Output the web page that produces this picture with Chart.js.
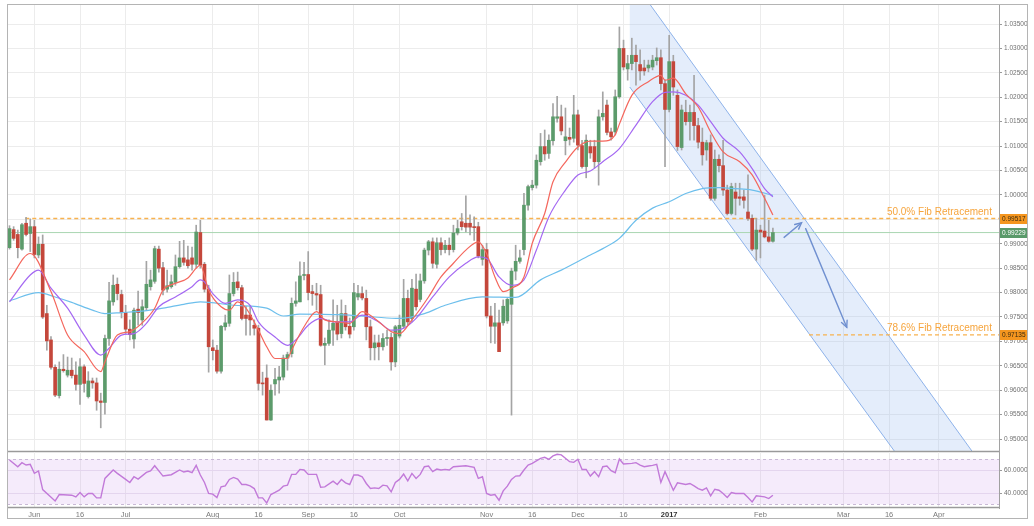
<!DOCTYPE html>
<html>
<head>
<meta charset="utf-8">
<title>Chart</title>
<script src="https://cdn.jsdelivr.net/npm/chart.js@4.4.1/dist/chart.umd.min.js"></script>
<style>
html,body{margin:0;padding:0;background:#ffffff;}
#wrap{position:relative;width:1034px;height:526px;overflow:hidden;background:#fff;}
#mainC{position:absolute;left:0;top:0;}
#rsiC{position:absolute;left:0;top:452px;}
#frame{position:absolute;left:7px;top:4px;width:1021px;height:515px;border:1px solid #b4b4b4;box-sizing:border-box;pointer-events:none;}
</style>
</head>
<body>
<div id="wrap">
<canvas id="mainC" width="1034" height="453"></canvas>
<canvas id="rsiC" width="1034" height="74"></canvas>
<div id="frame"></div>
</div>
<script>
const FONT = "'Liberation Sans', Arial, sans-serif";

// ---- candles (daily bars, bar index 0 = 1 Jun 2016) ----
const firstBar = -6;
const openV = [
0.9892,0.9929,0.9919,0.9889,0.9942,0.9921,0.9935,0.9877,0.9899,0.9757,
0.9703,0.9647,0.9589,0.9643,0.9631,0.9641,0.9631,0.9612,0.9648,0.9587,
0.9619,0.9615,0.9578,0.9575,0.9706,0.9781,0.9817,0.9796,0.9759,0.9725,
0.9705,0.9766,0.9744,0.9769,0.9812,0.9823,0.9889,0.9851,0.9807,0.9812,
0.9821,0.9853,0.9871,0.9867,0.9871,0.9858,0.9923,0.9858,0.9807,0.9687,
0.9682,0.9639,0.9730,0.9737,0.9798,0.9822,0.9810,0.9754,0.9754,0.9733,
0.9727,0.9615,0.9625,0.9539,0.9613,0.9621,0.9627,0.9666,0.9675,0.9778,
0.9781,0.9835,0.9837,0.9802,0.9798,0.9796,0.9692,0.9696,0.9723,0.9740,
0.9716,0.9757,0.9731,0.9730,0.9791,0.9798,0.9788,0.9730,0.9687,0.9697,
0.9689,0.9706,0.9708,0.9658,0.9711,0.9731,0.9788,0.9747,0.9807,0.9786,
0.9824,0.9887,0.9904,0.9858,0.9902,0.9888,0.9897,0.9888,0.9922,0.9945,
0.9942,0.9942,0.9935,0.9935,0.9868,0.9888,0.9752,0.9731,0.9738,0.9738,
0.9742,0.9776,0.9844,0.9864,0.9888,0.9979,1.0015,1.0020,1.0068,1.0099,
1.0085,1.0111,1.0157,1.0160,1.0111,1.0118,1.0116,1.0164,1.0101,1.0058,
1.0099,1.0099,1.0068,1.0160,1.0184,1.0129,1.0129,1.0201,1.0300,1.0258,
1.0269,1.0286,1.0267,1.0260,1.0260,1.0262,1.0275,1.0281,1.0228,1.0175,
1.0273,1.0204,1.0097,1.0169,1.0150,1.0169,1.0142,1.0108,1.0092,1.0107,
0.9993,1.0073,1.0060,1.0010,0.9962,1.0006,0.9996,0.9996,0.9965,0.9952,
0.9889,0.9928,0.9926,0.9914,0.9905];
const highV = [
0.9937,0.9935,0.9928,0.9942,0.9954,0.9951,0.9948,0.9914,0.9918,0.9774,
0.9710,0.9652,0.9658,0.9673,0.9668,0.9666,0.9658,0.9665,0.9652,0.9638,
0.9625,0.9625,0.9594,0.9713,0.9821,0.9836,0.9830,0.9805,0.9774,0.9744,
0.9768,0.9803,0.9785,0.9864,0.9846,0.9895,0.9895,0.9862,0.9846,0.9836,
0.9877,0.9905,0.9907,0.9895,0.9893,0.9938,0.9948,0.9862,0.9815,0.9703,
0.9692,0.9733,0.9754,0.9836,0.9841,0.9842,0.9815,0.9772,0.9774,0.9744,
0.9733,0.9637,0.9652,0.9611,0.9645,0.9649,0.9672,0.9678,0.9789,0.9822,
0.9863,0.9862,0.9884,0.9815,0.9819,0.9815,0.9707,0.9744,0.9785,0.9774,
0.9785,0.9774,0.9748,0.9819,0.9815,0.9812,0.9805,0.9744,0.9713,0.9713,
0.9716,0.9723,0.9717,0.9733,0.9754,0.9827,0.9805,0.9827,0.9838,0.9838,
0.9891,0.9907,0.9912,0.9912,0.9912,0.9907,0.9912,0.9938,0.9948,0.9962,
0.9998,0.9959,0.9955,0.9944,0.9897,0.9901,0.9772,0.9778,0.9764,0.9785,
0.9788,0.9850,0.9897,0.9887,1.0003,1.0020,1.0030,1.0082,1.0126,1.0133,
1.0123,1.0187,1.0202,1.0184,1.0178,1.0137,1.0204,1.0174,1.0112,1.0123,
1.0112,1.0112,1.0174,1.0211,1.0194,1.0137,1.0215,1.0344,1.0317,1.0286,
1.0321,1.0307,1.0297,1.0276,1.0276,1.0286,1.0301,1.0297,1.0235,1.0327,
1.0286,1.0215,1.0184,1.0194,1.0184,1.0245,1.0157,1.0137,1.0112,1.0123,
1.0092,1.0082,1.0112,1.0020,1.0024,1.0024,1.0024,1.0010,1.0041,0.9959,
0.9952,0.9938,0.9999,0.9948,0.9932];
const lowV = [
0.9889,0.9907,0.9871,0.9887,0.9916,0.9884,0.9871,0.9871,0.9747,0.9682,
0.9643,0.9587,0.9584,0.9637,0.9627,0.9625,0.9600,0.9571,0.9596,0.9584,
0.9604,0.9559,0.9523,0.9551,0.9692,0.9774,0.9785,0.9748,0.9716,0.9703,
0.9686,0.9733,0.9733,0.9764,0.9805,0.9819,0.9842,0.9795,0.9801,0.9809,
0.9815,0.9850,0.9856,0.9850,0.9846,0.9850,0.9850,0.9801,0.9637,0.9662,
0.9635,0.9635,0.9723,0.9731,0.9793,0.9805,0.9744,0.9713,0.9713,0.9713,
0.9600,0.9590,0.9539,0.9538,0.9590,0.9594,0.9621,0.9641,0.9668,0.9772,
0.9781,0.9826,0.9785,0.9774,0.9764,0.9690,0.9652,0.9692,0.9692,0.9703,
0.9707,0.9723,0.9707,0.9723,0.9785,0.9785,0.9703,0.9662,0.9662,0.9662,
0.9682,0.9692,0.9641,0.9648,0.9707,0.9727,0.9733,0.9740,0.9764,0.9781,
0.9819,0.9877,0.9850,0.9850,0.9877,0.9881,0.9877,0.9883,0.9918,0.9928,
0.9924,0.9918,0.9907,0.9871,0.9856,0.9748,0.9697,0.9696,0.9679,0.9733,
0.9737,0.9549,0.9826,0.9860,0.9877,0.9969,1.0010,1.0014,1.0061,1.0071,
1.0075,1.0102,1.0149,1.0123,1.0082,1.0102,1.0108,1.0092,1.0055,1.0035,
1.0075,1.0055,1.0020,1.0153,1.0123,1.0112,1.0123,1.0198,1.0256,1.0235,
1.0256,1.0225,1.0235,1.0245,1.0252,1.0256,1.0266,1.0215,1.0058,1.0170,
1.0204,1.0091,1.0092,1.0143,1.0112,1.0112,1.0096,1.0061,1.0071,0.9989,
0.9989,1.0047,0.9999,0.9959,0.9959,0.9959,0.9979,0.9973,0.9948,0.9886,
0.9866,0.9871,0.9912,0.9903,0.9903];
const closeV = [
0.9931,0.9911,0.9892,0.9939,0.9919,0.9935,0.9878,0.9899,0.9750,0.9701,
0.9647,0.9590,0.9643,0.9640,0.9641,0.9630,0.9612,0.9648,0.9614,0.9619,
0.9615,0.9578,0.9575,0.9706,0.9783,0.9815,0.9798,0.9759,0.9725,0.9714,
0.9764,0.9759,0.9771,0.9817,0.9826,0.9890,0.9850,0.9805,0.9814,0.9822,
0.9853,0.9871,0.9862,0.9855,0.9858,0.9924,0.9856,0.9807,0.9689,0.9681,
0.9639,0.9731,0.9738,0.9798,0.9821,0.9810,0.9747,0.9747,0.9744,0.9727,
0.9614,0.9613,0.9539,0.9600,0.9622,0.9627,0.9666,0.9673,0.9778,0.9783,
0.9834,0.9837,0.9800,0.9798,0.9795,0.9692,0.9696,0.9723,0.9737,0.9715,
0.9757,0.9730,0.9715,0.9800,0.9798,0.9789,0.9730,0.9687,0.9697,0.9689,
0.9706,0.9708,0.9658,0.9730,0.9733,0.9788,0.9740,0.9809,0.9771,0.9824,
0.9887,0.9904,0.9860,0.9902,0.9888,0.9897,0.9888,0.9922,0.9931,0.9935,
0.9934,0.9934,0.9933,0.9875,0.9888,0.9752,0.9731,0.9738,0.9679,0.9772,
0.9786,0.9844,0.9864,0.9871,0.9979,1.0017,1.0020,1.0071,1.0099,1.0084,
1.0112,1.0160,1.0160,1.0131,1.0119,1.0114,1.0164,1.0102,1.0058,1.0112,
1.0086,1.0068,1.0160,1.0167,1.0128,1.0119,1.0201,1.0300,1.0262,1.0269,
1.0286,1.0273,1.0254,1.0254,1.0266,1.0276,1.0281,1.0228,1.0175,1.0273,
1.0221,1.0099,1.0174,1.0150,1.0169,1.0142,1.0108,1.0082,1.0107,0.9993,
1.0073,1.0060,1.0010,0.9962,1.0017,0.9993,0.9993,0.9989,0.9952,0.9889,
0.9928,0.9924,0.9914,0.9905,0.9923];

// ---- moving averages ----
const maFastX = [-6,-1,4,8,12,16,17,20,23,26,29,31,34,37,39,40,42,45,47,49,51,54,56,58,61,62,65,68,70,73,76,79,82,86,88,91,95,98,101,104,107,109,111,113,115,118,120,123,125,128,131,134,137,140,141,144,148,151,152,154,157,160,163,166,170,173,176,178];
const maFastV = [0.9826,0.9880,0.9802,0.9713,0.9679,0.9638,0.9658,0.9713,0.9720,0.9738,0.9768,0.9805,0.9819,0.9830,0.9850,0.9856,0.9805,0.9771,0.9764,0.9781,0.9768,0.9723,0.9689,0.9665,0.9665,0.9682,0.9730,0.9761,0.9744,0.9740,0.9737,0.9761,0.9747,0.9720,0.9716,0.9744,0.9791,0.9832,0.9860,0.9887,0.9904,0.9880,0.9832,0.9802,0.9809,0.9832,0.9901,0.9962,1.0027,1.0067,1.0098,1.0110,1.0110,1.0123,1.0145,1.0204,1.0232,1.0245,1.0235,1.0239,1.0207,1.0180,1.0129,1.0088,1.0068,1.0041,0.9993,0.9959];
const maMidX = [-6,-1,1,4,8,12,16,18,21,24,27,30,34,38,40,41,43,46,49,52,54,58,61,63,66,69,72,76,79,83,86,89,92,96,100,104,107,109,112,115,118,121,124,128,131,134,137,141,145,149,152,154,157,160,163,166,170,173,176,178];
const maMidV = [0.9781,0.9836,0.9846,0.9809,0.9768,0.9713,0.9672,0.9686,0.9713,0.9716,0.9737,0.9771,0.9791,0.9812,0.9826,0.9822,0.9798,0.9778,0.9785,0.9774,0.9740,0.9709,0.9692,0.9703,0.9733,0.9747,0.9740,0.9740,0.9754,0.9740,0.9723,0.9727,0.9747,0.9791,0.9832,0.9860,0.9873,0.9870,0.9832,0.9815,0.9826,0.9887,0.9955,1.0010,1.0041,1.0049,1.0068,1.0095,1.0143,1.0191,1.0210,1.0211,1.0204,1.0184,1.0150,1.0116,1.0088,1.0054,1.0013,0.9996];
const maSlowX = [-6,1,5,9,14,17,21,26,31,36,40,48,56,60,64,72,76,82,88,94,99,108,116,122,127,134,137,141,145,149,153,157,161,165,169,173,178];
const maSlowV = [0.9783,0.9800,0.9791,0.9780,0.9764,0.9757,0.9759,0.9762,0.9768,0.9776,0.9781,0.9774,0.9768,0.9752,0.9756,0.9755,0.9754,0.9750,0.9747,0.9757,0.9774,0.9791,0.9790,0.9826,0.9846,0.9877,0.9890,0.9911,0.9948,0.9973,0.9986,1.0003,1.0013,1.0015,1.0013,1.0010,0.9999];

// ---- RSI ----
const rsiX = [-6,-4,-3,-2,-1,0,1,2,5,6,
9,10,11,12,13,14,15,16,17,19,
20,22,23,24,25,27,28,29,31,33,
35,36,37,38,39,40,41,42,43,44,
45,46,47,48,49,50,51,52,53,54,
55,56,57,58,59,60,61,62,63,64,
65,66,68,69,70,72,73,74,75,76,
77,78,79,80,81,82,83,84,85,86,
87,88,89,90,91,92,93,94,95,96,
97,98,99,100,101,104,106,107,108,109,
110,111,112,113,114,115,116,117,118,119,
120,122,123,124,125,126,127,128,129,130,
131,132,133,134,135,136,137,138,139,140,
141,142,144,145,146,147,148,149,150,151,
152,154,155,157,158,159,160,161,162,163,
164,165,166,167,168,169,171,172,173,174,
176,177,178];
const rsiV = [69.4,63.4,67.0,64.9,65.5,57.5,59.6,43.1,33.0,38.7,
38.1,36.6,40.5,36.6,39.6,39.6,35.7,35.7,53.0,60.5,
57.5,52.1,49.4,54.5,52.4,58.4,59.6,64.3,55.1,56.3,
60.5,58.7,59.6,58.1,64.6,56.0,49.4,39.6,39.0,36.0,
45.5,46.4,52.1,53.9,52.4,47.6,47.6,46.4,44.0,35.7,
35.7,31.2,38.7,40.5,42.5,46.1,47.0,56.6,56.6,61.0,
60.5,56.6,56.6,45.2,45.5,50.6,47.6,52.1,49.1,47.6,
56.0,56.0,54.5,48.5,44.0,44.6,44.0,47.0,46.4,41.0,
49.4,52.1,56.9,50.9,57.5,53.0,56.6,63.4,64.0,59.0,
61.3,60.5,61.0,60.5,63.4,64.3,62.8,53.0,54.5,39.6,
38.1,38.7,33.6,41.9,46.1,52.1,55.1,55.4,60.5,64.9,
66.4,70.9,71.8,70.0,73.0,74.5,73.9,70.9,67.9,67.3,
70.0,61.0,61.0,55.1,59.0,54.5,63.4,64.0,59.9,58.1,
70.3,65.8,66.4,67.0,64.9,63.4,64.0,64.6,65.5,49.4,
59.0,42.5,49.1,47.6,48.5,46.4,44.0,42.5,44.6,37.5,
43.4,42.5,39.6,36.0,40.5,39.6,39.6,36.0,32.1,37.5,
36.6,35.1,38.1];

// ---- axes ----
const tickBars = [0,11,22,43,54,66,77,88,109,120,131,142,153,175,195,206,218];
const tickLabels = ['Jun','16','Jul','Aug','16','Sep','16','Oct','Nov','16','Dec','16','2017','Feb','Mar','16','Apr'];
const priceTicks = [0.950,0.955,0.960,0.965,0.970,0.975,0.980,0.985,0.990,0.995,1.000,1.005,1.010,1.015,1.020,1.025,1.030,1.035];
const rsiTicks = [40,60];
const xMin = -6.6, xMax = 232.5;
const yMin = 0.94735, yMax = 1.0391;
const rsiMin = 26.7, rsiMax = 76.5;
const rsiUpper = 70, rsiLower = 30;

// ---- annotations ----
const fib50 = 0.99517, fib786 = 0.97135, lastPrice = 0.99229;
const fib50Start = -2.2, fib786Start = 186.7, fibTextX = 230.8;
const fibTexts = ['50.0% Fib Retracement','78.6% Fib Retracement'];
const channelUpper = [[148.3,1.0391],[226.1,0.9474]];
const channelLower = [[143.5,1.0221],[207.4,0.9474]];
const arrowsData = [[[180.7,0.9913],[184.9,0.9943]],[[185.9,0.9931],[195.8,0.9729]]];

const GREEN = '#5c9b6b', RED = '#c4473b';
const pts = (xs, vs) => xs.map((x, k) => ({x: x, y: vs[k]}));
const barX = openV.map((_, k) => firstBar + k);

function drawArrow(ctx, x1, y1, x2, y2) {
  ctx.beginPath(); ctx.moveTo(x1, y1); ctx.lineTo(x2, y2); ctx.stroke();
  const a = Math.atan2(y2 - y1, x2 - x1), L = 7, w = 0.45;
  ctx.beginPath();
  ctx.moveTo(x2 - L * Math.cos(a - w), y2 - L * Math.sin(a - w));
  ctx.lineTo(x2, y2);
  ctx.lineTo(x2 - L * Math.cos(a + w), y2 - L * Math.sin(a + w));
  ctx.stroke();
}
function drawTag(ctx, yPix, xL, bg, fg, text) {
  ctx.fillStyle = bg; ctx.fillRect(xL, Math.round(yPix) - 5, 27, 10);
  ctx.fillStyle = fg; ctx.font = '6.5px ' + FONT;
  ctx.textAlign = 'left'; ctx.textBaseline = 'middle';
  ctx.fillText(text, xL + 2, Math.round(yPix) + 0.5);
}
const noPadY = s => { s.width = 35; s.paddingTop = 0; s.paddingBottom = 0; };

const mainPlugin = {
  id: 'mainDeco',
  beforeDatasetsDraw(chart) {
    const {ctx, chartArea: a, scales: {x, y}} = chart;
    const P = p => [x.getPixelForValue(p[0]), y.getPixelForValue(p[1])];
    const u0 = P(channelUpper[0]), u1 = P(channelUpper[1]), l0 = P(channelLower[0]), l1 = P(channelLower[1]);
    ctx.save();
    ctx.beginPath(); ctx.rect(a.left, a.top, a.right - a.left, a.bottom - a.top); ctx.clip();
    ctx.beginPath();
    ctx.moveTo(l0[0], a.top); ctx.lineTo(u0[0], u0[1]); ctx.lineTo(u1[0], u1[1]);
    ctx.lineTo(l1[0], l1[1]); ctx.lineTo(l0[0], l0[1]); ctx.closePath();
    ctx.fillStyle = 'rgba(150,185,240,0.26)'; ctx.fill();
    ctx.strokeStyle = '#8db2ea'; ctx.lineWidth = 1;
    ctx.beginPath(); ctx.moveTo(u0[0], u0[1]); ctx.lineTo(u1[0], u1[1]); ctx.stroke();
    ctx.beginPath(); ctx.moveTo(l0[0], l0[1]); ctx.lineTo(l1[0], l1[1]); ctx.stroke();
    ctx.restore();
  },
  afterDatasetsDraw(chart) {
    const {ctx, chartArea: a, scales: {x, y}} = chart;
    ctx.save();
    ctx.beginPath(); ctx.rect(a.left, a.top, a.right - a.left, a.bottom - a.top); ctx.clip();
    ctx.strokeStyle = '#7090d0'; ctx.lineWidth = 1.4; ctx.lineCap = 'round';
    arrowsData.forEach(ar => {
      drawArrow(ctx, x.getPixelForValue(ar[0][0]), y.getPixelForValue(ar[0][1]),
                     x.getPixelForValue(ar[1][0]), y.getPixelForValue(ar[1][1]));
    });
    ctx.fillStyle = '#f6a53e'; ctx.font = '10px ' + FONT;
    ctx.textAlign = 'right'; ctx.textBaseline = 'bottom';
    ctx.fillText(fibTexts[0], x.getPixelForValue(fibTextX), y.getPixelForValue(fib50) - 1.5);
    ctx.fillText(fibTexts[1], x.getPixelForValue(fibTextX), y.getPixelForValue(fib786) - 1.5);
    ctx.restore();
  },
  afterDraw(chart) {
    const {ctx, chartArea: a, scales: {y}} = chart;
    ctx.save();
    ctx.strokeStyle = '#a2a2a2'; ctx.lineWidth = 1;
    ctx.strokeRect(a.left + 0.5, a.top + 0.5, a.right - a.left, a.bottom - a.top - 1);
    ctx.strokeStyle = '#9a9a9a'; ctx.lineWidth = 1.5;
    ctx.beginPath(); ctx.moveTo(a.left, a.bottom - 0.5); ctx.lineTo(a.right, a.bottom - 0.5); ctx.stroke();
    const xL = a.right + 1;
    drawTag(ctx, y.getPixelForValue(fib50), xL, '#f5961f', '#3a2a10', fib50.toFixed(5));
    drawTag(ctx, y.getPixelForValue(lastPrice), xL, '#5a9a6a', '#ffffff', lastPrice.toFixed(5));
    drawTag(ctx, y.getPixelForValue(fib786), xL, '#f5961f', '#3a2a10', fib786.toFixed(5));
    ctx.restore();
  }
};

const rsiPlugin = {
  id: 'rsiDeco',
  beforeDatasetsDraw(chart) {
    const {ctx, chartArea: a, scales: {y}} = chart;
    const yu = y.getPixelForValue(rsiUpper), yl = y.getPixelForValue(rsiLower);
    ctx.save();
    ctx.fillStyle = 'rgba(215,170,240,0.24)';
    ctx.fillRect(a.left, yu, a.right - a.left, yl - yu);
    ctx.strokeStyle = '#c9b9d6'; ctx.lineWidth = 1; ctx.setLineDash([3, 3]);
    [yu, yl].forEach(v => { ctx.beginPath(); ctx.moveTo(a.left, Math.round(v) + 0.5); ctx.lineTo(a.right, Math.round(v) + 0.5); ctx.stroke(); });
    ctx.restore();
  },
  afterDraw(chart) {
    const {ctx, chartArea: a} = chart;
    ctx.save();
    ctx.strokeStyle = '#9a9a9a'; ctx.lineWidth = 1.5;
    ctx.beginPath(); ctx.moveTo(a.left, a.bottom - 0.5); ctx.lineTo(a.right, a.bottom - 0.5); ctx.stroke();
    ctx.strokeStyle = '#a2a2a2'; ctx.lineWidth = 1;
    ctx.beginPath(); ctx.moveTo(a.left + 0.5, a.top); ctx.lineTo(a.left + 0.5, a.bottom); ctx.stroke();
    ctx.restore();
  }
};

const lineDs = (data, color, order, extra) => Object.assign({
  type: 'line', data: data, borderColor: color, borderWidth: 1.2, pointRadius: 0,
  fill: false, cubicInterpolationMode: 'monotone', order: order
}, extra || {});

new Chart(document.getElementById('mainC'), {
  type: 'bar',
  data: {
    datasets: [
      lineDs(pts(maFastX, maFastV), '#f4675d', 0),
      lineDs(pts(maMidX, maMidV), '#a468f2', 1),
      lineDs(pts(maSlowX, maSlowV), '#6dbfec', 2),
      lineDs([{x: fib50Start, y: fib50}, {x: xMax, y: fib50}], '#f8b24f', 7, {borderDash: [4, 3], borderWidth: 1.3}),
      lineDs([{x: fib786Start, y: fib786}, {x: xMax, y: fib786}], '#f8b24f', 7, {borderDash: [4, 3], borderWidth: 1.3}),
      lineDs([{x: xMin, y: lastPrice}, {x: xMax, y: lastPrice}], '#a9d6b2', 8, {borderWidth: 1}),
      {
        type: 'bar', label: 'body',
        data: barX.map((x, k) => ({x: x, y: [openV[k], closeV[k]]})),
        backgroundColor: barX.map((_, k) => closeV[k] >= openV[k] ? GREEN : RED),
        borderWidth: 0, barThickness: 3, minBarLength: 1, grouped: false, order: 5
      },
      {
        type: 'bar', label: 'wick',
        data: barX.map((x, k) => ({x: x, y: [lowV[k], highV[k]]})),
        backgroundColor: '#a4a4a4', borderWidth: 0, barThickness: 1, grouped: false, order: 6
      }
    ]
  },
  options: {
    responsive: false, animation: false, devicePixelRatio: 1, events: [],
    layout: {padding: {left: 7, top: 4, right: 0, bottom: 1}},
    plugins: {legend: {display: false}, tooltip: {enabled: false}},
    scales: {
      x: {
        type: 'linear', min: xMin, max: xMax, offset: false,
        afterBuildTicks: s => { s.ticks = tickBars.map(v => ({value: v})); },
        afterFit: s => { s.height = 0; s.paddingLeft = 0; s.paddingRight = 0; },
        ticks: {display: false},
        grid: {color: '#ececec', drawTicks: false, offset: false},
        border: {display: false}
      },
      y: {
        type: 'linear', position: 'right', min: yMin, max: yMax, beginAtZero: false,
        afterBuildTicks: s => { s.ticks = priceTicks.map(v => ({value: v})); },
        afterFit: noPadY,
        ticks: {font: {family: FONT, size: 6.5}, color: '#707070', padding: 2, callback: v => Number(v).toFixed(5)},
        grid: {color: '#ececec', tickLength: 3, tickColor: '#9a9a9a'},
        border: {display: true, color: '#a0a0a0'}
      }
    }
  },
  plugins: [mainPlugin]
});

new Chart(document.getElementById('rsiC'), {
  type: 'line',
  data: {datasets: [{data: pts(rsiX, rsiV), borderColor: '#c27ad9', borderWidth: 1.4, pointRadius: 0, tension: 0, fill: false}]},
  options: {
    responsive: false, animation: false, devicePixelRatio: 1, events: [],
    layout: {padding: {left: 7, top: 0, right: 0, bottom: 0}},
    plugins: {legend: {display: false}, tooltip: {enabled: false}},
    scales: {
      x: {
        type: 'linear', min: xMin, max: xMax, offset: false,
        afterBuildTicks: s => { s.ticks = tickBars.map(v => ({value: v})); },
        afterFit: s => { s.height = 18; s.paddingLeft = 0; s.paddingRight = 0; },
        ticks: {
          autoSkip: false, maxRotation: 0, padding: 2,
          font: c => ({family: FONT, size: 7.5, weight: (c.tick && tickLabels[tickBars.indexOf(c.tick.value)] === '2017') ? 'bold' : 'normal'}),
          color: c => (c.tick && tickLabels[tickBars.indexOf(c.tick.value)] === '2017') ? '#333333' : '#7a7a7a',
          callback: v => { const i = tickBars.indexOf(v); return i >= 0 ? tickLabels[i] : ''; }
        },
        grid: {color: '#ececec', drawTicks: false, offset: false},
        border: {display: false}
      },
      y: {
        type: 'linear', position: 'right', min: rsiMin, max: rsiMax, beginAtZero: false,
        afterBuildTicks: s => { s.ticks = rsiTicks.map(v => ({value: v})); },
        afterFit: noPadY,
        ticks: {font: {family: FONT, size: 6.5}, color: '#707070', padding: 2, callback: v => Number(v).toFixed(4)},
        grid: {color: '#e9e2ee', tickLength: 3, tickColor: '#9a9a9a'},
        border: {display: true, color: '#a0a0a0'}
      }
    }
  },
  plugins: [rsiPlugin]
});
</script>
</body>
</html>
